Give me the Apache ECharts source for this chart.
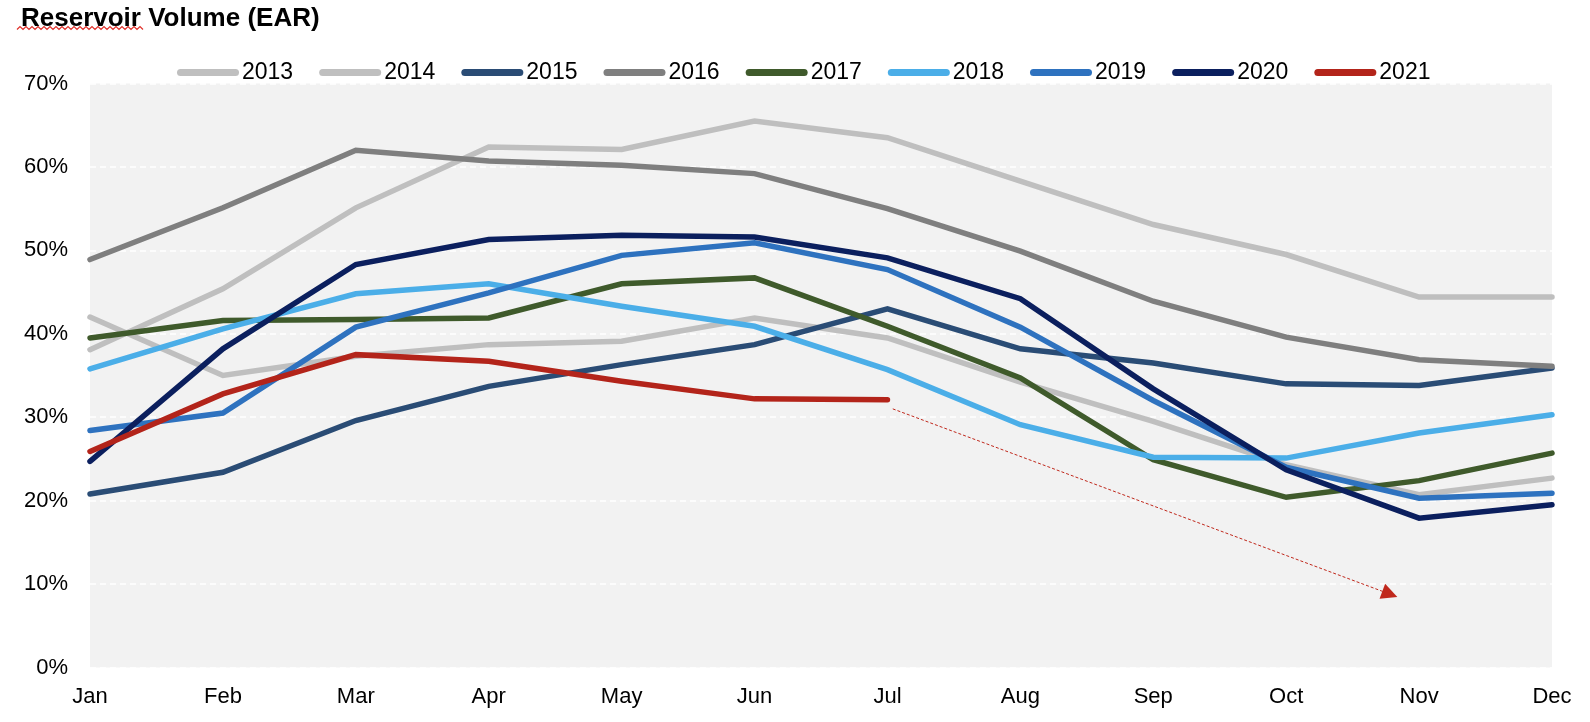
<!DOCTYPE html>
<html>
<head>
<meta charset="utf-8">
<script src="https://cdn.jsdelivr.net/npm/echarts@6/dist/echarts.min.js"></script>
<style>html,body{margin:0;padding:0;background:#fff;}#c{width:1590px;height:722px;}</style>
</head>
<body>
<div id="c"></div>
<script>
const months = ['Jan','Feb','Mar','Apr','May','Jun','Jul','Aug','Sep','Oct','Nov','Dec'];
const years = ['2013','2014','2015','2016','2017','2018','2019','2020','2021'];
const y2013 = [38.1,45.4,55.1,62.4,62.1,65.5,63.5,58.3,53.1,49.5,44.4,44.4];
const y2014 = [42.0,35.0,37.3,38.7,39.1,41.9,39.5,34.2,29.5,24.3,20.7,22.7];
const y2015 = [20.8,23.4,29.6,33.7,36.3,38.7,43.0,38.2,36.5,34.0,33.8,35.9];
const y2016 = [48.9,55.1,62.0,60.7,60.2,59.2,55.0,49.9,43.9,39.6,36.9,36.1];
const y2017 = [39.5,41.6,41.7,41.9,46.0,46.7,40.9,34.7,24.9,20.4,22.4,25.7];
const y2018 = [35.8,40.6,44.8,46.0,43.3,40.9,35.7,29.1,25.2,25.1,28.1,30.3];
const y2019 = [28.4,30.5,40.8,44.9,49.4,50.9,47.7,40.8,32.0,24.0,20.3,20.9];
const y2020 = [24.7,38.2,48.3,51.3,51.8,51.6,49.1,44.2,33.4,23.7,17.9,19.5];
const y2021 = [25.9,32.8,37.5,36.7,34.3,32.2,32.1,null,null,null,null,null];
const trendArrow = [[6.04,31.0],[9.78,8.8]];
const yTicks = {min:0, max:70, interval:10};

const seriesValues = [y2013,y2014,y2015,y2016,y2017,y2018,y2019,y2020,y2021];
const colors = ['#BFBFBF','#BFBFBF','#2A4C75','#7F7F7F','#3F5A2B','#4BAEE8','#2E72BF','#0B1F5E','#B3241A'];
const FONT = "'Liberation Sans', Arial, sans-serif";

const chart = echarts.init(document.getElementById('c'));
const series = years.map((y,i)=>({
  name: y, type:'line', data: seriesValues[i], symbol:'none', smooth:false,
  connectNulls:false, clip:true,
  lineStyle:{color:colors[i], width:5.5, cap:'round', join:'miter'},
  itemStyle:{color:colors[i]}, z: 2+i
}));
series.push({
  name:'trend', type:'lines', coordinateSystem:'cartesian2d', xAxisIndex:1, yAxisIndex:0,
  symbol:['none','triangle'], symbolSize:[0,16],
  lineStyle:{color:'#C0281C', width:1, type:[3,2], opacity:1, curveness:0},
  data:[{coords: trendArrow}], z:20, silent:true
});

// squiggle under "Reservoir" (spell-check mark)
const sq = [];
for (let x=17; x<=144; x+=3) sq.push([x, 28 + ((Math.round((x-17)/3))%2 ? -1.5 : 1.5)]);

chart.setOption({
  animation:false,
  backgroundColor:'#fff',
  title:{text:'Reservoir Volume (EAR)', left:16, top:1,
    textStyle:{fontFamily:FONT, fontWeight:'bold', fontSize:26, color:'#000'}},
  graphic:[{type:'polyline', shape:{points:sq}, style:{stroke:'#E0302A', lineWidth:1.2, fill:null}, z:100}],
  legend:{
    data: years, left:172, top:56, itemWidth:62, itemHeight:7, itemGap:26,
    icon:'path://M3.5,0 H58.5 A3.5,3.5 0 0 1 58.5,7 H3.5 A3.5,3.5 0 0 1 3.5,0 Z',
    textStyle:{fontFamily:FONT, fontSize:23, color:'#000', padding:[0,0,0,-2]}
  },
  grid:{left:90, right:38, top:83.5, bottom:54.5, show:true, backgroundColor:'#F2F2F2', borderWidth:0},
  xAxis:[{
    type:'category', data:months, boundaryGap:false,
    axisLine:{show:false}, axisTick:{show:false},
    axisLabel:{fontFamily:FONT, fontSize:22, color:'#000', margin:18},
    splitLine:{show:false}
  },{
    type:'value', min:0, max:11, show:false
  }],
  yAxis:{
    type:'value', min:yTicks.min, max:yTicks.max, interval:yTicks.interval,
    axisLine:{show:false}, axisTick:{show:false},
    axisLabel:{fontFamily:FONT, fontSize:22, color:'#000', margin:22, formatter:'{value}%'},
    splitLine:{show:true, lineStyle:{color:'#FFFFFF', width:1.5, type:[6,4]}}
  },
  series: series
});
</script>
</body>
</html>
